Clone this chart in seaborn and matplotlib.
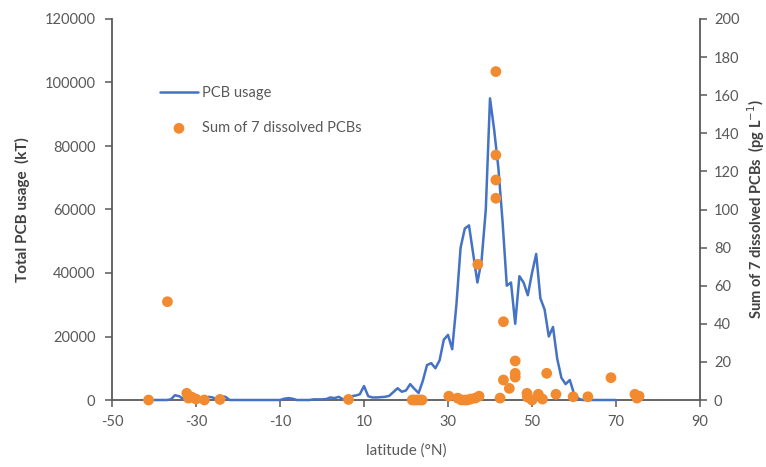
import matplotlib
matplotlib.use("Agg")
import matplotlib.pyplot as plt
import seaborn as sns
import pandas as pd
import numpy as np

# ---- data ----
usage_lat = list(range(-40, 71))
usage_kt = [
    0, 0, 0, 0, 200, 1500, 1200, 300, 0, 600,          # -40..-31
    200, 0, 0, 1000, 800, 0, 1200, 1000, 0, 0,          # -30..-21
    0, 0, 0, 0, 0, 0, 0, 0, 0, 0,                       # -20..-11
    0, 400, 600, 400, 0, 0, 0, 0, 200, 200,             # -10..-1
    200, 300, 800, 600, 1000, 200, 400, 1200, 1400, 1800,  # 0..9
    4400, 1200, 800, 800, 900, 1000, 1300, 2500, 3700, 2600,  # 10..19
    3000, 5000, 3500, 2200, 6000, 11000, 11600, 10000, 12500, 19000,  # 20..29
    20500, 16000, 30000, 48000, 54000, 55000, 46000, 37000, 44000, 60000,  # 30..39
    95000, 85000, 73000, 56000, 36000, 37000, 24000, 39000, 37000, 33000,  # 40..49
    40000, 46000, 32000, 28500, 20000, 23000, 13000, 7000, 5000, 6300,  # 50..59
    2000, 500, 0, 0, 0, 0, 0, 0, 0, 0, 0,               # 60..70
]

pcb_lat = [-41.3, -36.8, -32.2, -31.8, -31.0, -30.0, -28.0, -24.3,
           6.3,
           21.5, 22.0, 22.6, 23.3, 23.8,
           30.2, 32.3, 33.2, 34.0, 34.6, 35.4, 36.5, 37.1, 37.4,
           41.4, 41.4, 41.4, 41.4,
           42.4, 43.2, 43.2, 44.6, 46.0, 46.0, 46.0,
           48.8, 48.9, 50.0, 51.5, 52.5, 53.5, 55.7,
           59.8, 63.3, 68.8, 74.5, 75.0, 75.5]
pcb_val = [0, 51.6, 3.5, 1, 1.5, 0.5, 0, 0.3,
           0.3,
           0, 0, 0, 0, 0,
           2, 1, 0, 0, 0, 0.5, 1, 71.2, 2,
           172.4, 128.6, 115.5, 105.9,
           1, 41.1, 10.5, 6.1, 20.5, 14, 12,
           3.5, 1.5, 0, 3, 0.5, 14, 3,
           1.7, 1.7, 11.7, 3, 1, 2]

x_ticks = [-50, -30, -10, 10, 30, 50, 70, 90]
yl_ticks = [0, 20000, 40000, 60000, 80000, 100000, 120000]
yr_ticks = [0, 20, 40, 60, 80, 100, 120, 140, 160, 180, 200]

df_use = pd.DataFrame({"lat": usage_lat, "usage": usage_kt})
df_pcb = pd.DataFrame({"lat": pcb_lat, "pcb": pcb_val})

# ---- style ----
sns.set_style("white")
plt.rcParams["font.family"] = ["Lato", "DejaVu Sans"]
plt.rcParams["axes.unicode_minus"] = False
tick_col = "#595959"
axis_col = "#595959"
blue = "#4472C4"
orange = "#F28A30"

fig = plt.figure(figsize=(7.66, 4.67), dpi=100)
ax = fig.add_axes([112 / 766, 1 - 400 / 467, (700 - 112) / 766, (400 - 19) / 467])
ax2 = ax.twinx()

sns.lineplot(data=df_use, x="lat", y="usage", ax=ax, color=blue, lw=1.8,
             label="PCB usage", legend=False, clip_on=False, zorder=3)
sns.scatterplot(data=df_pcb, x="lat", y="pcb", ax=ax2, color=orange, s=60,
                edgecolor="none", label="Sum of 7 dissolved PCBs",
                legend=False, clip_on=False, zorder=4)

ax.set_xlim(-50, 90)
ax.set_ylim(0, 120000)
ax2.set_ylim(0, 200)
ax.set_xticks(x_ticks)
ax.set_yticks(yl_ticks)
ax2.set_yticks(yr_ticks)

for a in (ax, ax2):
    a.spines["top"].set_visible(False)
    for s in a.spines.values():
        s.set_color(axis_col)
        s.set_linewidth(1.3)
ax.spines["right"].set_visible(False)
ax2.spines["left"].set_visible(False)
ax2.spines["bottom"].set_visible(False)

ax.tick_params(axis="both", direction="out", length=5, width=1.1, color=axis_col,
               labelcolor=tick_col, labelsize=10.5, pad=7)
ax.tick_params(axis="x", pad=6)
ax2.tick_params(axis="y", direction="out", length=5, width=1.1, color=axis_col,
                labelcolor=tick_col, labelsize=10.5, pad=5)
ax.tick_params(left=True, bottom=True)
ax2.tick_params(right=True)

ax.set_xlabel("latitude (°N)", color=tick_col, fontsize=11, labelpad=10)
ax.set_ylabel("Total PCB usage  (kT)", color="#404040", fontsize=11,
              fontweight="bold", labelpad=10)
ax2.set_ylabel("Sum of 7 dissolved PCBs  (pg L$^{-1}$)", color="#404040",
               fontsize=10.5, fontweight="bold", labelpad=4)
ax.grid(False)
ax2.grid(False)

h1, l1 = ax.get_legend_handles_labels()
h2, l2 = ax2.get_legend_handles_labels()
leg = fig.legend(h1 + h2, l1 + l2, loc="upper left",
                 bbox_to_anchor=(160 / 766, 1 - 86 / 467),
                 frameon=False, fontsize=10.5, labelcolor=tick_col,
                 handlelength=2.6, handletextpad=0.25, labelspacing=1.45,
                 borderpad=0, borderaxespad=0)

fig.savefig("out.png", dpi=100)
